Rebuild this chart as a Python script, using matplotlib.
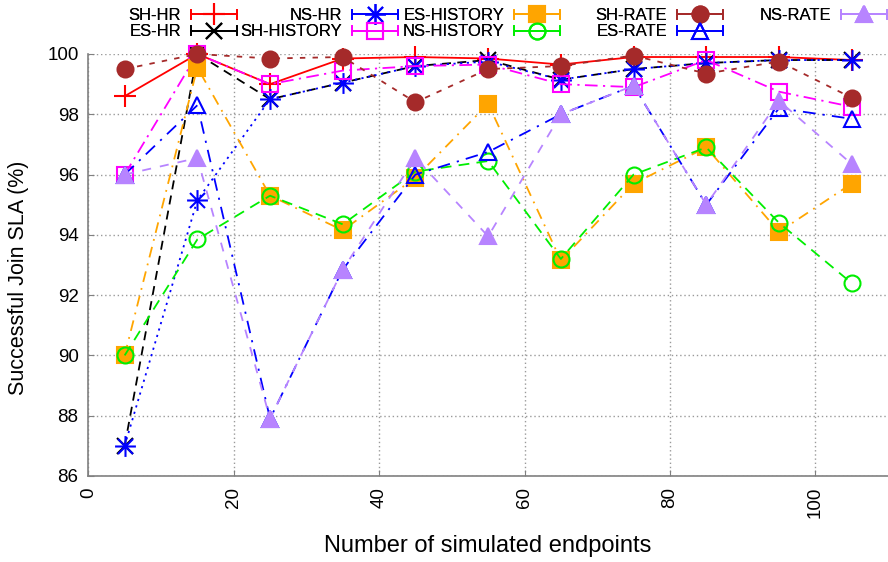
import numpy as np
import matplotlib
matplotlib.use("Agg")
import matplotlib.pyplot as plt
from matplotlib.lines import Line2D
from matplotlib.path import Path
from matplotlib.legend_handler import HandlerLine2D

plt.rcParams['font.family'] = ['Liberation Sans', 'DejaVu Sans']

# number of simulated endpoints
endpoints = [5, 15, 25, 35, 45, 55, 65, 75, 85, 95, 105]

# successful join SLA (%) per algorithm
sh_hr = [98.6, 100.0, 99.0, 99.85, 99.9, 99.85, 99.65, 99.9, 99.9, 99.9, 99.8]
es_hr = [87.0, 100.0, 98.5, 99.05, 99.6, 99.8, 99.15, 99.5, 99.7, 99.8, 99.8]
ns_hr = [87.0, 95.15, 98.5, 99.05, 99.6, 99.75, 99.15, 99.5, 99.7, 99.8, 99.8]
sh_history = [96.0, 100.0, 99.0, 99.45, 99.6, 99.65, 99.0, 98.9, 99.8, 98.75, 98.25]
es_history = [90.0, 99.55, 95.3, 94.15, 95.9, 98.35, 93.15, 95.7, 96.9, 94.1, 95.7]
ns_history = [90.0, 93.85, 95.3, 94.35, 96.1, 96.45, 93.2, 96.0, 96.9, 94.4, 92.4]
sh_rate = [99.5, 100.0, 99.85, 99.9, 98.4, 99.5, 99.6, 99.95, 99.35, 99.75, 98.55]
es_rate = [96.0, 98.3, 87.9, 92.85, 96.0, 96.75, 98.0, 98.95, 95.0, 98.2, 97.85]
ns_rate = [96.0, 96.55, 87.9, 92.85, 96.55, 93.95, 98.0, 98.95, 95.0, 98.45, 96.35]

xticks = [0, 20, 40, 60, 80, 100]
yticks = [86, 88, 90, 92, 94, 96, 98, 100]

# asterisk marker: plus and cross drawn together
d = 0.72
star = Path([(-1, 0), (1, 0), (0, -1), (0, 1), (-d, -d), (d, d), (-d, d), (d, -d)],
            [Path.MOVETO, Path.LINETO] * 4)

purple = '#b784ff'
series = [
    ('SH-HR', sh_hr, 'red', '-', '+', 'none', 16),
    ('ES-HR', es_hr, 'black', (0, (5, 3.5)), 'x', 'none', 12),
    ('NS-HR', ns_hr, 'blue', (0, (1.2, 2.5)), star, 'none', 15),
    ('SH-HISTORY', sh_history, 'magenta', (0, (7, 3, 1.2, 3)), 's', 'none', 11),
    ('ES-HISTORY', es_history, 'orange', (0, (6, 3.5, 1, 3.5)), 's', 'orange', 11),
    ('NS-HISTORY', ns_history, '#00ee00', (0, (6, 4)), 'o', 'none', 11.5),
    ('SH-RATE', sh_rate, '#a52a2a', (0, (3, 4)), 'o', '#a52a2a', 11.5),
    ('ES-RATE', es_rate, 'blue', (0, (7, 4, 1.2, 4)), '^', 'none', 11),
    ('NS-RATE', ns_rate, purple, (0, (5, 5)), '^', purple, 11),
]


class HandlerCapped(HandlerLine2D):
    """Key sample drawn as a line with end caps and the marker in the middle."""

    def create_artists(self, legend, orig_handle, xdescent, ydescent,
                       width, height, fontsize, trans):
        artists = super().create_artists(legend, orig_handle, xdescent, ydescent,
                                         width, height, fontsize, trans)
        y = height / 2 - ydescent
        cap = 0.28 * fontsize
        for x in (-xdescent, width - xdescent):
            artists.append(Line2D([x, x], [y - cap, y + cap],
                                  color=orig_handle.get_color(), lw=1.3,
                                  transform=trans))
        return artists


fig = plt.figure(figsize=(8.88, 5.62), dpi=100)
ax = fig.add_axes([88.3 / 888, 1 - 476 / 562, (888 - 88.3) / 888, (476 - 54) / 562])

handles = []
for label, vals, color, ls, marker, face, ms in series:
    ax.plot(endpoints, vals, color=color, linestyle=ls, lw=1.3, marker=marker,
            markersize=ms, markerfacecolor=face, markeredgecolor=color,
            markeredgewidth=1.5, clip_on=False, zorder=3)
    handles.append(Line2D([], [], color=color, linestyle='-', lw=1.3, marker=marker,
                          markersize=ms, markerfacecolor=face, markeredgecolor=color,
                          markeredgewidth=1.5, label=label))

ax.set_xlim(0, 110)
ax.set_ylim(86, 100)
ax.set_xticks(xticks)
ax.set_yticks(yticks)
ax.tick_params(axis='x', labelrotation=90, direction='in', length=4, color='#808080',
               labelsize=13.5, pad=8)
ax.tick_params(axis='y', direction='in', length=4, color='#808080', labelsize=13.5, pad=7)
ax.grid(True, color='#9a9a9a', linestyle=(0, (1, 2)), lw=1)
ax.set_axisbelow(True)
for side in ('top', 'right'):
    ax.spines[side].set_visible(False)
for side in ('left', 'bottom'):
    ax.spines[side].set_color('#808080')
    ax.spines[side].set_linewidth(1.2)

ax.set_xlabel('Number of simulated endpoints', fontsize=17, labelpad=12)
ax.set_ylabel('Successful Join SLA (%)', fontsize=15.5)
ax.yaxis.set_label_coords(-0.074, 0.47)

# key in fixed-width columns above the plot, two entries per column
col_right = [237, 398, 560, 723, 887]
for i, xr in enumerate(col_right):
    leg = fig.legend(handles=handles[2 * i:2 * i + 2], loc='upper right',
                     bbox_to_anchor=(xr / 888, 1 - 8 / 562), frameon=False,
                     markerfirst=False, fontsize=12, handlelength=2.75,
                     handletextpad=0.6, labelspacing=0.08, borderpad=0,
                     borderaxespad=0, numpoints=1,
                     handler_map={Line2D: HandlerCapped()})
    fig.add_artist(leg)

fig.savefig('out.png', dpi=100)
